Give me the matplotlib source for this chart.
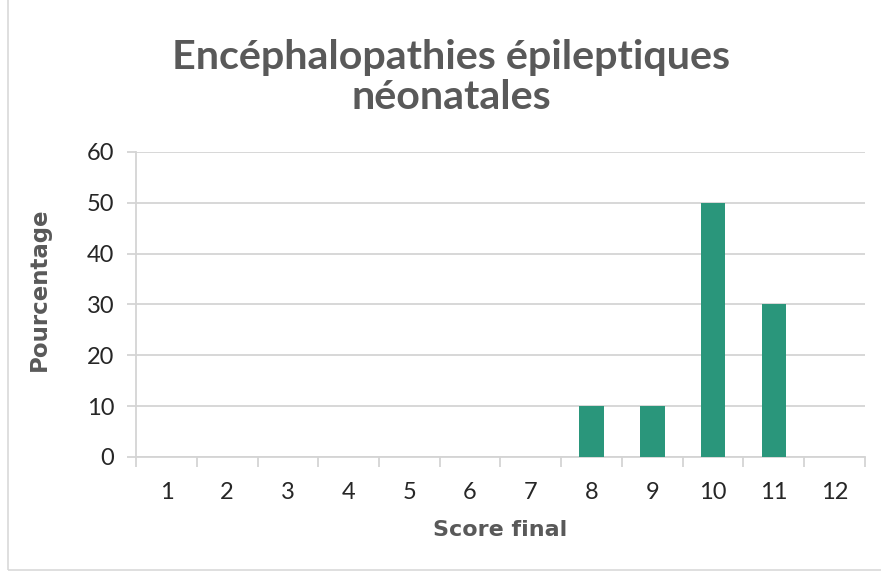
import numpy as np
import matplotlib.pyplot as plt
from matplotlib.patches import Rectangle

scores = ["1", "2", "3", "4", "5", "6", "7", "8", "9", "10", "11", "12"]
pourcentage = [0, 0, 0, 0, 0, 0, 0, 10, 10, 50, 30, 0]
yticks = [0, 10, 20, 30, 40, 50, 60]

plt.rcParams['font.family'] = ['Lato', 'DejaVu Sans']

fig = plt.figure(figsize=(8.81, 5.77), dpi=100)
ax = fig.add_axes([0.1544, 0.2080, 0.8274, 0.5286])

x = np.arange(len(scores))
ax.bar(x, pourcentage, width=0.4, color="#2A967B", zorder=3)

ax.set_xlim(-0.5, len(scores) - 0.5)
ax.set_ylim(0, 60)
ax.set_yticks(yticks)
ax.set_xticks(x)
ax.set_xticklabels(scores)
ax.set_xticks(np.arange(-0.5, len(scores)), minor=True)

grid_c = "#D4D4D4"
ax.grid(axis="y", color=grid_c, linewidth=1.3, zorder=0)
for s in ["top", "right"]:
    ax.spines[s].set_visible(False)
ax.spines["left"].set_color(grid_c)
ax.spines["bottom"].set_color(grid_c)
ax.spines["left"].set_linewidth(1.3)
ax.spines["bottom"].set_linewidth(1.3)

ax.tick_params(axis="x", which="major", length=0, pad=18, labelsize=17, labelcolor="#262626")
ax.tick_params(axis="x", which="minor", length=7, color=grid_c, width=1.3)
ax.tick_params(axis="y", length=6.5, color=grid_c, width=1.3, pad=9, labelsize=17, labelcolor="#262626")

ax.set_xlabel("Score final", fontsize=16, fontweight="bold", color="#595959", family="DejaVu Sans")
ax.set_ylabel("Pourcentage", fontsize=16.5, fontweight="bold", color="#595959", family="DejaVu Sans")
ax.xaxis.set_label_coords(0.5, -0.207)
ax.yaxis.set_label_coords(-0.117, 0.551)

fig.text(0.512, 0.866, "Encéphalopathies épileptiques\nnéonatales", ha="center", va="center",
         fontsize=29.7, fontweight="bold", color="#595959", linespacing=1.1)

fig.patches.append(Rectangle((0.009, 0.012), 1.2, 1.2, transform=fig.transFigure,
                             fill=False, edgecolor="#D9D9D9", linewidth=1.2))

fig.savefig("out.png", dpi=100)
